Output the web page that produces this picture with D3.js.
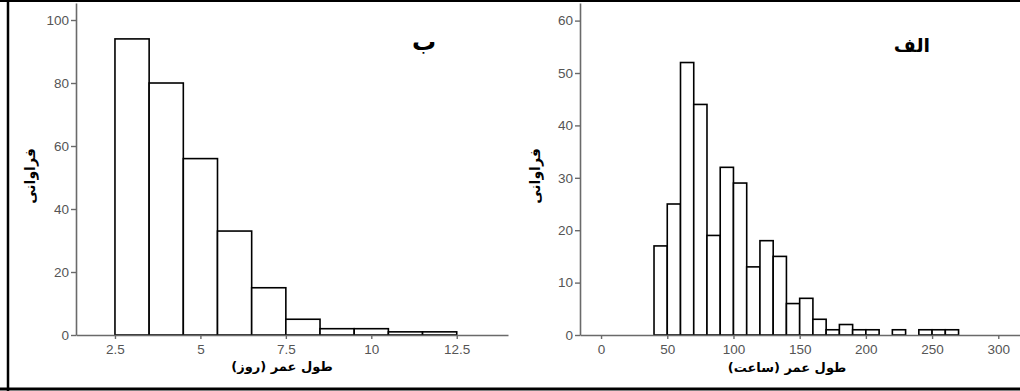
<!DOCTYPE html>
<html>
<head>
<meta charset="utf-8">
<script src="https://cdn.jsdelivr.net/npm/d3@7"></script>
<style>
  html, body { margin: 0; padding: 0; background: #fff; }
  svg { display: block; }
  .tick text { font-family: "Liberation Sans", Arial, sans-serif; font-size: 13.5px; fill: #555; }
  .ar { font-family: "DejaVu Sans", sans-serif; font-weight: bold; fill: #000; }
</style>
</head>
<body>
<svg id="chart" width="1020" height="391"></svg>
<script>
// ---------- Data ----------
// Left panel (ب): lifetime in days, bin width 1
const leftBinStarts = [2.5, 3.5, 4.5, 5.5, 6.5, 7.5, 8.5, 9.5, 10.5, 11.5];
const leftCounts    = [94, 80, 56, 33, 15, 5, 2, 2, 1, 1];
const leftBinWidth  = 1;
const leftXTicks    = [2.5, 5, 7.5, 10, 12.5];
const leftYTicks    = [0, 20, 40, 60, 80, 100];

// Right panel (الف): lifetime in hours, bin width 10
const rightBinStarts = [40, 50, 60, 70, 80, 90, 100, 110, 120, 130, 140, 150, 160, 170, 180, 190, 200, 210, 220, 230, 240, 250, 260];
const rightCounts    = [17, 25, 52, 44, 19, 32, 29, 13, 18, 15, 6, 7, 3, 1, 2, 1, 1, 0, 1, 0, 1, 1, 1];
const rightBinWidth  = 10;
const rightXTicks    = [0, 50, 100, 150, 200, 250, 300];
const rightYTicks    = [0, 10, 20, 30, 40, 50, 60];

const labels = {
  yTitle: "فراوانی",
  leftX: "طول عمر (روز)",
  rightX: "طول عمر (ساعت)",
  leftPanel: "ب",
  rightPanel: "الف"
};

// ---------- Drawing ----------
const svg = d3.select("#chart");

function panel(opts) {
  const g = svg.append("g");
  const x = d3.scaleLinear().domain(opts.xDomain).range(opts.xRange);
  const y = d3.scaleLinear().domain(opts.yDomain).range([335, 3]);

  // bars
  const data = opts.starts.map((s, i) => ({ s, c: opts.counts[i] })).filter(d => d.c > 0);
  g.selectAll("rect.bar").data(data).enter().append("rect")
    .attr("class", "bar")
    .attr("x", d => x(d.s))
    .attr("width", d => x(d.s + opts.bw) - x(d.s))
    .attr("y", d => y(d.c))
    .attr("height", d => y(0) - y(d.c))
    .attr("fill", "#fff")
    .attr("stroke", "#000")
    .attr("stroke-width", 1.6);

  // y axis
  const ya = g.append("g")
    .attr("transform", `translate(${opts.xRange[0]},0)`)
    .call(d3.axisLeft(y).tickValues(opts.yTicks).tickSize(5).tickSizeOuter(0).tickPadding(2));
  // x axis
  const xa = g.append("g")
    .attr("transform", `translate(0,${y(0)})`)
    .call(d3.axisBottom(x).tickValues(opts.xTicks).tickSize(4).tickSizeOuter(0).tickPadding(5)
      .tickFormat(d3.format("~g")));
  [ya, xa].forEach(a => {
    a.select(".domain").attr("stroke", "#6a6a6a").attr("stroke-width", 1.6);
    a.selectAll(".tick line").attr("stroke", "#6a6a6a").attr("stroke-width", 1.4);
  });

  // titles
  g.append("text").attr("class", "ar")
    .attr("transform", `translate(${opts.yTitlePos[0]},${opts.yTitlePos[1]}) rotate(-90)`)
    .attr("text-anchor", "middle").attr("dominant-baseline", "middle")
    .style("font-size", "14px")
    .text(labels.yTitle);
  g.append("text").attr("class", "ar")
    .attr("x", opts.xTitlePos[0]).attr("y", opts.xTitlePos[1])
    .attr("text-anchor", "middle").attr("dominant-baseline", "middle")
    .style("font-size", "13px")
    .text(opts.xTitle);
  g.append("text").attr("class", "ar")
    .attr("x", opts.panelPos[0]).attr("y", opts.panelPos[1])
    .attr("text-anchor", "middle").attr("dominant-baseline", "middle")
    .style("font-size", opts.panelSize)
    .text(opts.panelLabel);
}

panel({
  starts: leftBinStarts, counts: leftCounts, bw: leftBinWidth,
  xDomain: [1.36, 14.0], xRange: [76, 508],
  yDomain: [0, 105.4], xTicks: leftXTicks, yTicks: leftYTicks,
  yTitlePos: [31, 176], xTitlePos: [282, 367], xTitle: labels.leftX,
  panelPos: [424, 43], panelLabel: labels.leftPanel, panelSize: "24px"
});

panel({
  starts: rightBinStarts, counts: rightCounts, bw: rightBinWidth,
  xDomain: [-15.9, 316.4], xRange: [580, 1020],
  yDomain: [0, 63.36], xTicks: rightXTicks, yTicks: rightYTicks,
  yTitlePos: [536, 176], xTitlePos: [787, 368], xTitle: labels.rightX,
  panelPos: [912, 46], panelLabel: labels.rightPanel, panelSize: "19px"
});

// frame
svg.append("line").attr("x1", 0).attr("x2", 1020).attr("y1", 1).attr("y2", 1).attr("stroke", "#000").attr("stroke-width", 2);
svg.append("line").attr("x1", 0).attr("x2", 1020).attr("y1", 389).attr("y2", 389).attr("stroke", "#000").attr("stroke-width", 3);
svg.append("line").attr("x1", 8).attr("x2", 8).attr("y1", 0).attr("y2", 391).attr("stroke", "#000").attr("stroke-width", 2.5);
</script>
</body>
</html>
